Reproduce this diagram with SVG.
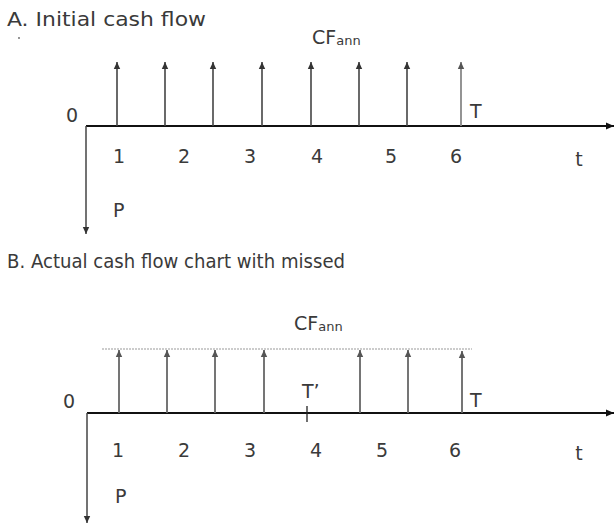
<svg xmlns="http://www.w3.org/2000/svg" width="616" height="526" viewBox="0 0 616 526">
<style>
text{font-family:"DejaVu Sans","Liberation Sans",sans-serif;fill:#3a3a3a;font-size:19px}
.sub{font-size:13px}
.axis{stroke:#111;stroke-width:2;fill:none}
.cf{stroke:#444;stroke-width:1.6;fill:none}
.cfb{stroke:#666;stroke-width:1.8;fill:none}
.cfl{stroke:#888;stroke-width:1.8;fill:none}
.down{stroke:#444;stroke-width:1.5;fill:none}
.dot{stroke:#999;stroke-width:1.2;stroke-dasharray:2 1;fill:none}
</style>
<defs>
<marker id="ah" markerUnits="userSpaceOnUse" markerWidth="10" markerHeight="10" refX="9" refY="5" orient="auto"><path d="M1,1.5 L9,5 L1,8.5 Z" fill="#111"/></marker>
<marker id="sh" markerUnits="userSpaceOnUse" markerWidth="8" markerHeight="8" refX="7" refY="4" orient="auto"><path d="M0,0.8 L7,4 L0,7.2 Z" fill="#333"/></marker>
<marker id="sg" markerUnits="userSpaceOnUse" markerWidth="8" markerHeight="8" refX="7" refY="4" orient="auto"><path d="M0,0.8 L7,4 L0,7.2 Z" fill="#555"/></marker>
</defs>

<g id="partA">
<text x="7" y="26" textLength="199" lengthAdjust="spacingAndGlyphs">A. Initial cash flow</text>
<circle cx="19" cy="38" r="0.9" fill="#666"/>
<g id="connectorsA">
<line class="axis" x1="86" y1="126" x2="614" y2="126" marker-end="url(#ah)"/>
<line class="down" x1="86" y1="126" x2="86" y2="234" marker-end="url(#sh)"/>
<line class="cf" x1="117" y1="126" x2="117" y2="62" marker-end="url(#sh)"/>
<line class="cf" x1="165" y1="126" x2="165" y2="62" marker-end="url(#sh)"/>
<line class="cf" x1="213" y1="126" x2="213" y2="62" marker-end="url(#sh)"/>
<line class="cf" x1="262" y1="126" x2="262" y2="62" marker-end="url(#sh)"/>
<line class="cf" x1="311" y1="126" x2="311" y2="62" marker-end="url(#sh)"/>
<line class="cf" x1="359" y1="126" x2="359" y2="62" marker-end="url(#sh)"/>
<line class="cf" x1="407" y1="126" x2="407" y2="62" marker-end="url(#sh)"/>
<line class="cfl" x1="461" y1="126" x2="461" y2="62" marker-end="url(#sg)"/>
</g>
<text x="312" y="44">CF<tspan class="sub" dy="1">ann</tspan></text>
<text x="66" y="122">0</text>
<text x="470" y="118">T</text>
<text x="119" y="163" text-anchor="middle">1</text>
<text x="184" y="163" text-anchor="middle">2</text>
<text x="250" y="163" text-anchor="middle">3</text>
<text x="317" y="163" text-anchor="middle">4</text>
<text x="391" y="163" text-anchor="middle">5</text>
<text x="456" y="163" text-anchor="middle">6</text>
<text x="579" y="166" text-anchor="middle">t</text>
<text x="113" y="217">P</text>
</g>

<g id="partB">
<text x="7" y="268" textLength="338" lengthAdjust="spacingAndGlyphs">B. Actual cash flow chart with missed</text>
<g id="connectorsB">
<line class="dot" x1="102" y1="349" x2="472" y2="349"/>
<line class="axis" x1="87" y1="413" x2="614" y2="413" marker-end="url(#ah)"/>
<line class="down" x1="87" y1="413" x2="87" y2="523" marker-end="url(#sh)"/>
<line class="cfb" x1="119" y1="413" x2="119" y2="350" marker-end="url(#sg)"/>
<line class="cfb" x1="167" y1="413" x2="167" y2="350" marker-end="url(#sg)"/>
<line class="cfb" x1="215" y1="413" x2="215" y2="350" marker-end="url(#sg)"/>
<line class="cfb" x1="264" y1="413" x2="264" y2="350" marker-end="url(#sg)"/>
<line class="cfb" x1="360" y1="413" x2="360" y2="350" marker-end="url(#sg)"/>
<line class="cfb" x1="408" y1="413" x2="408" y2="350" marker-end="url(#sg)"/>
<line class="cfb" x1="462" y1="413" x2="462" y2="351" marker-end="url(#sg)"/>
<line x1="307" y1="406" x2="307" y2="422" stroke="#222" stroke-width="1.3"/>
</g>
<text x="294" y="330">CF<tspan class="sub" dy="1">ann</tspan></text>
<text x="63" y="408">0</text>
<text x="302" y="398">T’</text>
<text x="470" y="407">T</text>
<text x="118" y="457" text-anchor="middle">1</text>
<text x="184" y="457" text-anchor="middle">2</text>
<text x="250" y="457" text-anchor="middle">3</text>
<text x="316" y="457" text-anchor="middle">4</text>
<text x="382" y="457" text-anchor="middle">5</text>
<text x="455" y="457" text-anchor="middle">6</text>
<text x="579" y="460" text-anchor="middle">t</text>
<text x="115" y="503">P</text>
</g>
</svg>
